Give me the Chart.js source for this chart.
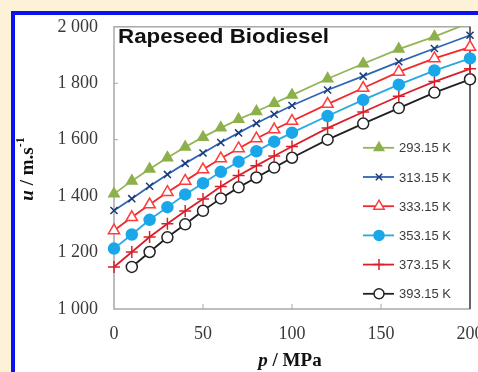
<!DOCTYPE html>
<html>
<head>
<meta charset="utf-8">
<script src="https://cdn.jsdelivr.net/npm/chart.js@4"></script>
<style>
  html, body { margin: 0; padding: 0; width: 478px; height: 372px; overflow: hidden; background: #fdf1d8; }
  #frame { position: absolute; left: 11px; top: 11px; width: 520px; height: 420px; background: #fff;
           border-left: 4px solid #0b12f2; border-top: 4px solid #0b12f2; }
  #chart { position: absolute; left: 0; top: 0; }
</style>
</head>
<body>
<div id="frame"></div>
<canvas id="chart" width="500" height="372"></canvas>
<script>
// Data
const pressures = [0, 10, 20, 30, 40, 50, 60, 70, 80, 90, 100, 120, 140, 160, 180, 200];
const temps = ['293.15 K', '313.15 K', '333.15 K', '353.15 K', '373.15 K', '393.15 K'];
const u293 = [1408, 1454, 1496, 1536, 1574, 1609, 1642, 1672, 1700, 1729, 1758, 1816, 1869, 1921, 1965, 2015];
const u313 = [1349, 1391, 1435, 1477, 1516, 1553, 1590, 1624, 1658, 1690, 1721, 1776, 1825, 1876, 1923, 1970];
const u333 = [1278, 1325, 1370, 1414, 1454, 1494, 1533, 1569, 1604, 1636, 1666, 1726, 1783, 1840, 1888, 1928];
const u353 = [1214, 1264, 1316, 1361, 1406, 1446, 1486, 1522, 1559, 1593, 1625, 1684, 1741, 1795, 1845, 1888];
const u373 = [1149, 1202, 1255, 1302, 1347, 1390, 1434, 1473, 1508, 1542, 1576, 1641, 1698, 1754, 1806, 1851];
const u393 = [null, 1149, 1202, 1254, 1300, 1348, 1392, 1431, 1466, 1501, 1536, 1600, 1657, 1712, 1767, 1814];
const xTicks = [0, 50, 100, 150, 200];
const yTicks = [1000, 1200, 1400, 1600, 1800, 2000];

// Series styles
const STYLES = [
  { line: '#93b556', style: 'triangle', fill: '#8db04c', stroke: '#8db04c', radius: 6 },
  { line: '#2f66b3', style: 'crossRot', fill: '#1c3a78', stroke: '#1c3a78', radius: 5 },
  { line: '#f02a2a', style: 'triangle', fill: '#ffffff', stroke: '#ff3b3b', radius: 6.5 },
  { line: '#27a9e1', style: 'circle', fill: '#1aa7ea', stroke: '#1aa7ea', radius: 5.5 },
  { line: '#d9202a', style: 'cross', fill: '#d9202a', stroke: '#d9202a', radius: 6 },
  { line: '#222222', style: 'circle', fill: '#ffffff', stroke: '#222222', radius: 5.5 },
];
const SERIES = [u293, u313, u333, u353, u373, u393];

const SERIF = '"Liberation Serif", "Times New Roman", serif';
const SANS = '"Liberation Sans", Arial, sans-serif';

function spaced(v) {
  return String(v).replace(/\B(?=(\d{3})+(?!\d))/g, ' ');
}

// Draw a run of text pieces with different fonts, centred on x
function drawRich(ctx, parts, x, y) {
  let total = 0;
  parts.forEach(p => { ctx.font = p.font; p.w = ctx.measureText(p.text).width; total += p.w; });
  let cx = x - total / 2;
  parts.forEach(p => {
    ctx.font = p.font;
    ctx.fillText(p.text, cx, y + (p.dy || 0));
    cx += p.w;
  });
}

// Plot box and inward tick marks
const boxPlugin = {
  id: 'box',
  beforeDatasetsDraw(chart) {
    const { ctx, chartArea: a, scales } = chart;
    ctx.save();
    ctx.strokeStyle = '#a8a8a8';
    ctx.lineWidth = 1.5;
    ctx.strokeRect(a.left, a.top, a.right - a.left, a.bottom - a.top);
    ctx.strokeStyle = '#666';
    ctx.lineWidth = 2;
    ctx.beginPath();
    ctx.moveTo(a.right, a.top);
    ctx.lineTo(a.right, a.bottom);
    ctx.stroke();

    ctx.strokeStyle = '#a8a8a8';
    ctx.lineWidth = 1;
    yTicks.slice(1, -1).forEach(v => {
      const y = scales.y.getPixelForValue(v);
      ctx.beginPath();
      ctx.moveTo(a.left, y);
      ctx.lineTo(a.left + 4, y);
      ctx.stroke();
    });
    xTicks.slice(1, -1).forEach(v => {
      const x = scales.x.getPixelForValue(v);
      ctx.beginPath();
      ctx.moveTo(x, a.bottom);
      ctx.lineTo(x, a.bottom - 5);
      ctx.stroke();
    });
    ctx.restore();
  },
  afterDraw(chart) {
    const { ctx, chartArea: a } = chart;
    ctx.save();

    // Title inside the plot
    ctx.fillStyle = '#111';
    ctx.font = 'bold 21px ' + SANS;
    ctx.textBaseline = 'alphabetic';
    const title = 'Rapeseed Biodiesel';
    const tw = ctx.measureText(title).width;
    ctx.save();
    ctx.translate(a.left + 4, 43);
    ctx.scale(211 / tw, 1);
    ctx.fillText(title, 0, 0);
    ctx.restore();

    // Legend: line with marker, then label
    ctx.font = '13px ' + SANS;
    ctx.textBaseline = 'middle';
    chart.data.datasets.forEach((ds, i) => {
      const s = STYLES[i];
      const y = a.top + 121 + i * 29.2;
      const x0 = a.right - 107;
      ctx.strokeStyle = s.line;
      ctx.lineWidth = 1.8;
      ctx.beginPath();
      ctx.moveTo(x0, y);
      ctx.lineTo(x0 + 31, y);
      ctx.stroke();
      ctx.fillStyle = s.fill;
      ctx.strokeStyle = s.stroke;
      ctx.lineWidth = 1.5;
      Chart.helpers.drawPoint(ctx, { pointStyle: s.style, radius: s.radius - 0.5, rotation: 0, borderWidth: 1.5 }, x0 + 16, y);
      ctx.fillStyle = '#3a3a3a';
      ctx.fillText(ds.label, x0 + 36, y + 1);
    });

    // Axis titles
    ctx.fillStyle = '#111';
    ctx.textBaseline = 'middle';
    drawRich(ctx, [
      { text: 'p', font: 'italic bold 19px ' + SERIF },
      { text: ' / MPa', font: 'bold 19px ' + SERIF },
    ], 290, 361);

    ctx.translate(28, 169);
    ctx.rotate(-Math.PI / 2);
    drawRich(ctx, [
      { text: 'u', font: 'italic bold 19px ' + SERIF },
      { text: ' / m.s', font: 'bold 19px ' + SERIF },
      { text: '-1', font: 'bold 12px ' + SERIF, dy: -7 },
    ], 0, 0);
    ctx.restore();
  },
};

const datasets = SERIES.map((values, i) => {
  const s = STYLES[i];
  return {
    label: temps[i],
    data: pressures.map((p, j) => ({ x: p, y: values[j] })),
    borderColor: s.line,
    borderWidth: 1.8,
    pointStyle: s.style,
    pointRadius: s.radius,
    pointBackgroundColor: s.fill,
    pointBorderColor: s.stroke,
    pointBorderWidth: 1.5,
    tension: 0,
    clip: { left: false, top: 0, right: false, bottom: false },
  };
});

new Chart(document.getElementById('chart'), {
  type: 'line',
  data: { datasets },
  options: {
    responsive: false,
    animation: false,
    layout: { padding: { top: 25, right: 30, left: 0, bottom: 0 } },
    plugins: { legend: { display: false }, tooltip: { enabled: false } },
    scales: {
      x: {
        type: 'linear',
        min: 0,
        max: 200,
        afterBuildTicks: s => { s.ticks = xTicks.map(v => ({ value: v })); },
        afterFit: s => { s.height = 63; },
        grid: { display: false, drawTicks: false },
        border: { display: false },
        ticks: { padding: 14, color: '#3a3a3a', font: { family: SERIF, size: 18 }, maxRotation: 0 },
      },
      y: {
        type: 'linear',
        min: 1000,
        max: 2000,
        afterBuildTicks: s => { s.ticks = yTicks.map(v => ({ value: v })); },
        afterFit: s => { s.width = 114; },
        grid: { display: false, drawTicks: false },
        border: { display: false },
        ticks: { padding: 16, color: '#3a3a3a', font: { family: SERIF, size: 18 }, callback: v => spaced(v) },
      },
    },
  },
  plugins: [boxPlugin],
});
</script>
</body>
</html>
